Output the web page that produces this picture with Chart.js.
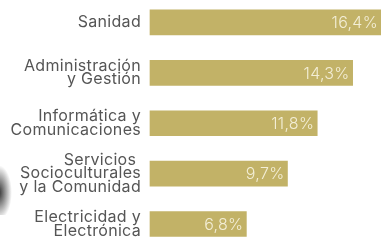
<!DOCTYPE html>
<html>
<head>
<meta charset="utf-8">
<script src="https://cdn.jsdelivr.net/npm/chart.js@4/dist/chart.umd.min.js"></script>
<style>
    html, body { margin: 0; padding: 0; background: #ffffff; }
    #wrap { position: relative; width: 381px; height: 240px; overflow: hidden; }
    #shade {
        position: absolute; left: -10px; top: 165px; width: 22px; height: 50px;
        background: radial-gradient(ellipse at 40% 55%, rgba(25,25,25,0.9) 0%, rgba(60,60,60,0.45) 40%, rgba(255,255,255,0) 70%);
    }
</style>
</head>
<body>
<div id="wrap">
    <div id="shade"></div>
    <canvas id="sectorChart" width="381" height="240"></canvas>
</div>
<script>
// Sectores y porcentajes
const sectorLabels = [
    ['Sanidad'],
    ['Administración', 'y Gestión'],
    ['Informática y', 'Comunicaciones'],
    ['Servicios ', 'Socioculturales', 'y la Comunidad'],
    ['Electricidad y', 'Electrónica']
];
const sectorValues = [16.4, 14.3, 11.8, 9.7, 6.8];
const valueLabels = ['16,4%', '14,3%', '11,8%', '9,7%', '6,8%'];

const barColor = '#c2b267';
const labelColor = '#555555';
const valueColor = '#f3eed6';
const fontFamily = 'Inter, sans-serif';

// the text in the original is set a little wider;
// canvas resizes reset the context, so set it again before layout and draw
const letterSpacingPlugin = {
    id: 'letterSpacing',
    beforeLayout: function(chart) { chart.ctx.letterSpacing = '0.3px'; },
    beforeDraw: function(chart) { chart.ctx.letterSpacing = '0.3px'; }
};

// Draw the percentage inside the end of each bar
const valueLabelPlugin = {
    id: 'valueLabels',
    afterDatasetsDraw: function(chart) {
        const ctx = chart.ctx;
        const meta = chart.getDatasetMeta(0);
        ctx.save();
        ctx.font = '300 16px ' + fontFamily;
        ctx.fillStyle = valueColor;
        ctx.textAlign = 'right';
        ctx.textBaseline = 'middle';
        meta.data.forEach(function(bar, i) {
            ctx.fillText(valueLabels[i], Math.min(bar.x, 381) - 3, bar.y + 1);
        });
        ctx.restore();
    }
};

new Chart(document.getElementById('sectorChart'), {
    type: 'bar',
    data: {
        labels: sectorLabels,
        datasets: [{
            data: sectorValues,
            backgroundColor: barColor,
            borderWidth: 0,
            barThickness: 25,
            clip: false
        }]
    },
    options: {
        indexAxis: 'y',
        responsive: false,
        animation: false,
        layout: {
            padding: { top: 19, bottom: 16, left: 0, right: 0 }
        },
        plugins: {
            legend: { display: false },
            tooltip: { enabled: false }
        },
        scales: {
            x: {
                display: false,
                min: 0,
                max: 16.3
            },
            y: {
                offset: false,
                grid: { display: false, drawTicks: false },
                border: { display: false },
                afterFit: function(scale) { scale.width = 150; },
                ticks: {
                    padding: 9,
                    color: labelColor,
                    font: { family: fontFamily, size: 16, weight: '400', lineHeight: 0.84 }
                }
            }
        }
    },
    plugins: [letterSpacingPlugin, valueLabelPlugin]
});
</script>
</body>
</html>
